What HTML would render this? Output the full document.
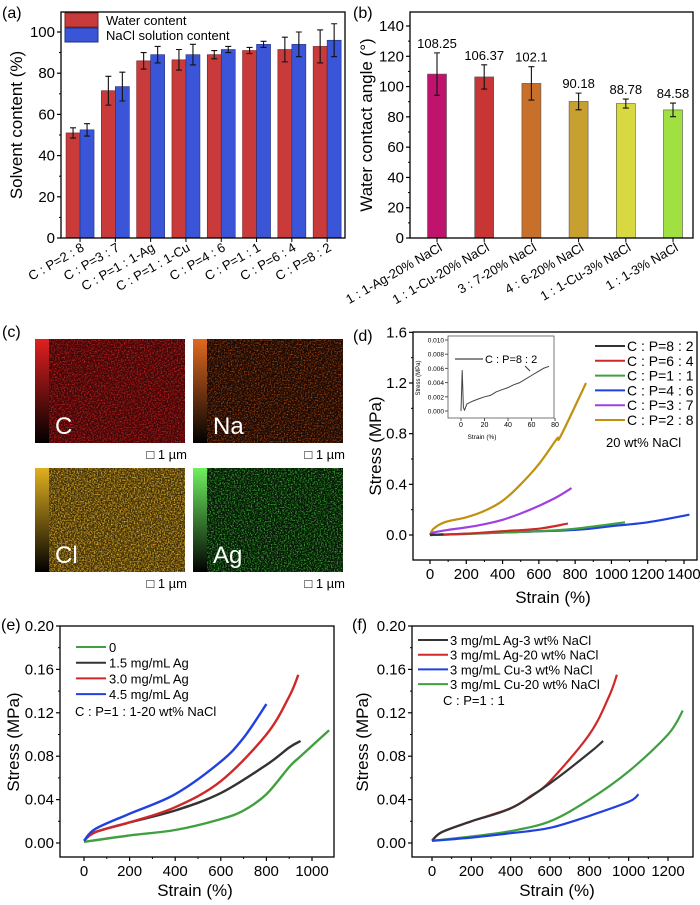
<!DOCTYPE html>
<html><head><meta charset="utf-8"><style>
body{margin:0;background:#fff;}
svg{display:block;font-family:"Liberation Sans",sans-serif;}
</style></head><body>
<svg id="fig" width="700" height="905" viewBox="0 0 700 905" xmlns="http://www.w3.org/2000/svg">
<defs>
<filter id="nC" x="0" y="0" width="100%" height="100%" color-interpolation-filters="sRGB"><feTurbulence type="fractalNoise" baseFrequency="0.7" numOctaves="2" seed="1"/><feColorMatrix type="matrix" values="0 0 0 0 0.82  0 0 0 0 0.12  0 0 0 0 0.12  2.6 0 0 0 -1.1"/></filter>
<filter id="nNa" x="0" y="0" width="100%" height="100%" color-interpolation-filters="sRGB"><feTurbulence type="fractalNoise" baseFrequency="0.7" numOctaves="2" seed="2"/><feColorMatrix type="matrix" values="0 0 0 0 0.75  0 0 0 0 0.3  0 0 0 0 0.08  2.6 0 0 0 -1.2"/></filter>
<filter id="nCl" x="0" y="0" width="100%" height="100%" color-interpolation-filters="sRGB"><feTurbulence type="fractalNoise" baseFrequency="0.7" numOctaves="2" seed="3"/><feColorMatrix type="matrix" values="0 0 0 0 0.85  0 0 0 0 0.65  0 0 0 0 0.15  2.6 0 0 0 -1.0"/></filter>
<filter id="nAg" x="0" y="0" width="100%" height="100%" color-interpolation-filters="sRGB"><feTurbulence type="fractalNoise" baseFrequency="0.7" numOctaves="2" seed="4"/><feColorMatrix type="matrix" values="0 0 0 0 0.25  0 0 0 0 0.75  0 0 0 0 0.22  2.6 0 0 0 -1.15"/></filter>
<linearGradient id="gC" x1="0" y1="1" x2="0" y2="0"><stop offset="0" stop-color="#000"/><stop offset="1" stop-color="#e02020"/></linearGradient>
<linearGradient id="gNa" x1="0" y1="1" x2="0" y2="0"><stop offset="0" stop-color="#000"/><stop offset="1" stop-color="#e06a20"/></linearGradient>
<linearGradient id="gCl" x1="0" y1="1" x2="0" y2="0"><stop offset="0" stop-color="#000"/><stop offset="1" stop-color="#e0b020"/></linearGradient>
<linearGradient id="gAg" x1="0" y1="1" x2="0" y2="0"><stop offset="0" stop-color="#000"/><stop offset="1" stop-color="#70f060"/></linearGradient>
</defs>
<g id="root"></g>
</svg>
<script>
// ---- Panel (a) data ----
const aCats = ["C : P=2 : 8","C : P=3 : 7","C : P=1 : 1-Ag","C : P=1 : 1-Cu","C : P=4 : 6","C : P=1 : 1","C : P=6 : 4","C : P=8 : 2"];
const aWater = [51,71.5,86,86.5,89,91,91.5,93];
const aWaterErr = [2.5,7,4,5,2,1.5,6,8];
const aNaCl = [52.5,73.5,89,89,91.5,94,94,96];
const aNaClErr = [3,7,4,5,1.5,1.5,6,8];
const aTicks = [0,20,40,60,80,100];
// ---- Panel (b) data ----
const bCats = ["1 : 1-Ag-20% NaCl","1 : 1-Cu-20% NaCl","3 : 7-20% NaCl","4 : 6-20% NaCl","1 : 1-Cu-3% NaCl","1 : 1-3% NaCl"];
const bVals = [108.25,106.37,102.1,90.18,88.78,84.58];
const bLabels = ["108.25","106.37","102.1","90.18","88.78","84.58"];
const bErr = [14,8,11,5.5,3,4.5];
const bTicks = [0,20,40,60,80,100,120,140];
// ---- Panel (d) data ----
const dNames = ["C : P=8 : 2","C : P=6 : 4","C : P=1 : 1","C : P=4 : 6","C : P=3 : 7","C : P=2 : 8"];
const dX82 = [0,20,40,60,75];           const dY82 = [0,0.002,0.003,0.005,0.006];
const dX64 = [0,200,400,600,760];       const dY64 = [0,0.01,0.03,0.05,0.09];
const dX11 = [0,200,400,600,800,1075];  const dY11 = [0,0.008,0.02,0.03,0.05,0.1];
const dX46 = [0,200,400,800,1000,1200,1430]; const dY46 = [0,0.01,0.02,0.04,0.07,0.1,0.16];
const dX37 = [0,20,100,200,300,400,500,600,700,780]; const dY37 = [0,0.02,0.04,0.06,0.085,0.12,0.17,0.23,0.3,0.37];
const dX28 = [0,20,80,200,300,400,500,600,700,720,860]; const dY28 = [0,0.05,0.1,0.14,0.19,0.27,0.4,0.56,0.76,0.78,1.2];
const dXTicks = [0,200,400,600,800,1000,1200,1400];
const dYTicks = [0,0.4,0.8,1.2,1.6];
const inX = [0,1,2,3,5,10,15,20,25,30,35,40,45,50,55,60,65,70,75];
const inY = [0,0.0057,0.0005,0.0001,0.001,0.0014,0.0017,0.002,0.0022,0.0027,0.003,0.0033,0.0037,0.004,0.0045,0.005,0.0055,0.006,0.0063];
const inXTicks = [0,20,40,60,80];
const inYTicks = [0,0.002,0.004,0.006,0.008,0.010];
// ---- Panel (e) data ----
const eNames = ["0","1.5 mg/mL Ag","3.0 mg/mL Ag","4.5 mg/mL Ag"];
const eX0 = [0,200,400,600,700,800,900,950,1075];   const eY0 = [0.001,0.007,0.012,0.022,0.03,0.045,0.07,0.08,0.104];
const eX15 = [0,50,200,400,600,800,900,950];        const eY15 = [0.002,0.01,0.019,0.03,0.046,0.072,0.088,0.094];
const eX30 = [0,50,200,400,600,800,900,940];        const eY30 = [0.002,0.01,0.019,0.033,0.057,0.1,0.135,0.155];
const eX45 = [0,50,200,400,600,700,800];            const eY45 = [0.002,0.013,0.027,0.045,0.075,0.097,0.128];
const eXTicks = [0,200,400,600,800,1000];
const efYTicks = [0,0.04,0.08,0.12,0.16,0.20];
// ---- Panel (f) data ----
const fNames = ["3 mg/mL Ag-3 wt% NaCl","3 mg/mL Ag-20 wt% NaCl","3 mg/mL Cu-3 wt% NaCl","3 mg/mL Cu-20 wt% NaCl"];
const fXAg3 = [0,50,200,400,600,800,870];           const fYAg3 = [0.002,0.01,0.02,0.032,0.055,0.083,0.094];
const fXAg20 = [0,50,200,400,500,600,800,900,940];  const fYAg20 = [0.002,0.01,0.02,0.032,0.043,0.057,0.1,0.135,0.155];
const fXCu3 = [0,200,400,600,800,1000,1050];        const fYCu3 = [0.002,0.005,0.009,0.014,0.025,0.038,0.045];
const fXCu20 = [0,200,400,600,800,1000,1200,1275];  const fYCu20 = [0.002,0.006,0.011,0.02,0.04,0.066,0.1,0.122];
const fXTicks = [0,200,400,600,800,1000,1200];

const NS="http://www.w3.org/2000/svg";
const root=document.getElementById('root');
function mk(tag,attrs,parent,text){const e=document.createElementNS(NS,tag);for(const k in attrs)e.setAttribute(k,attrs[k]);if(text!==undefined)e.textContent=text;(parent||root).appendChild(e);return e;}
function lin(d0,d1,r0,r1){return v=>r0+(v-d0)*(r1-r0)/(d1-d0);}
function fmt(v,dec){return v.toFixed(dec);}

function axes(g,x0,x1,y0,y1,sy,yTicks,ydec,sx,xTicks,xdec,fs){
  const box=mk('rect',{x:x0,y:y0,width:x1-x0,height:y1-y0,fill:'none',stroke:'#000','stroke-width':1.3},g);
  
  
  yTicks.forEach((t,i)=>{const y=sy(t);mk('line',{x1:x0-4,x2:x0,y1:y,y2:y,stroke:'#000','stroke-width':1.2},g);
    const tl=mk('text',{x:x0-6,y:y+5,'text-anchor':'end','font-size':fs},g,fmt(t,ydec));
    
    
    if(i<yTicks.length-1){const ym=sy((t+yTicks[i+1])/2);mk('line',{x1:x0-2,x2:x0,y1:ym,y2:ym,stroke:'#000'},g);}
  });
  if(sx){xTicks.forEach((t,i)=>{const x=sx(t);mk('line',{x1:x,x2:x,y1:y1,y2:y1+4,stroke:'#000','stroke-width':1.2},g);
    const tl=mk('text',{x:x,y:y1+19,'text-anchor':'middle','font-size':fs},g,fmt(t,xdec));
    
    
    if(i<xTicks.length-1){const xm=sx((t+xTicks[i+1])/2);mk('line',{x1:xm,x2:xm,y1:y1,y2:y1+2,stroke:'#000'},g);}
  });}
}
function curve(g,sx,sy,xs,ys,color,w,sharp){
  const P=xs.map((x,i)=>[sx(x),sy(ys[i])]);
  let d='M'+P[0][0].toFixed(1)+','+P[0][1].toFixed(1);
  for(let i=0;i<P.length-1;i++){
    if(sharp){d+=' L'+P[i+1][0].toFixed(1)+','+P[i+1][1].toFixed(1);continue;}
    const p0=P[Math.max(0,i-1)],p1=P[i],p2=P[i+1],p3=P[Math.min(P.length-1,i+2)];
    const c1=[p1[0]+(p2[0]-p0[0])/6,p1[1]+(p2[1]-p0[1])/6];
    const c2=[p2[0]-(p3[0]-p1[0])/6,p2[1]-(p3[1]-p1[1])/6];
    d+=` C${c1[0].toFixed(1)},${c1[1].toFixed(1)} ${c2[0].toFixed(1)},${c2[1].toFixed(1)} ${p2[0].toFixed(1)},${p2[1].toFixed(1)}`;
  }
  return mk('path',{d:d,fill:'none',stroke:color,'stroke-width':w||2,'stroke-linejoin':'round'},g);
}
function title(g,x,y,txt,rot,fs){const t=mk('text',{x:x,y:y,'text-anchor':'middle','font-size':fs||17,transform:rot?`rotate(-90 ${x} ${y})`:''},g,txt);return t;}
function plabel(x,y,txt){const t=mk('text',{x:x,y:y,'font-size':16},root,txt);}

// ===== Panel (a) =====
(function(){
  const g=mk('g',{});
  const X0=61,X1=345,Y0=12,Y1=238;
  const sy=lin(0,100,238,32);
  const sx=lin(-0.5,7.5,62.4,344.8);
  aCats.forEach((c,i)=>{
    const cx=sx(i);
    const r=mk('rect',{x:cx-14,y:sy(aWater[i]),width:14,height:238-sy(aWater[i]),fill:'#c93a3a',stroke:'#7a2020','stroke-width':0.6},g);
    
    const b=mk('rect',{x:cx,y:sy(aNaCl[i]),width:14,height:238-sy(aNaCl[i]),fill:'#3a55d8',stroke:'#22307a','stroke-width':0.6},g);
    
    [[cx-7,aWater[i],aWaterErr[i]],[cx+7,aNaCl[i],aNaClErr[i]]].forEach(([x,v,e])=>{
      const eb=mk('path',{d:`M${x},${sy(v-e)}V${sy(v+e)}M${x-3},${sy(v-e)}H${x+3}M${x-3},${sy(v+e)}H${x+3}`,stroke:'#111','stroke-width':1.1,fill:'none'},g);
      
    });
    mk('line',{x1:cx,x2:cx,y1:238,y2:242,stroke:'#000'},g);
    const t=mk('text',{x:cx+5,y:250,'text-anchor':'end','font-size':13,transform:`rotate(-30 ${cx+5} 250)`},g,c);
    
  });
  axes(g,X0,X1,Y0,Y1,sy,aTicks,0,null,null,0,15);
  const yt=title(g,22,125,'Solvent content (%)',true,17);
  const l1=mk('rect',{x:65,y:13,width:33,height:14,fill:'#c93a3a',stroke:'#7a2020'},g);
  const l2=mk('rect',{x:65,y:28,width:33,height:14,fill:'#3a55d8',stroke:'#22307a'},g);
  const t1=mk('text',{x:106,y:25,'font-size':13},g,'Water content');
  const t2=mk('text',{x:106,y:40,'font-size':13},g,'NaCl solution content');
  plabel(2,18,'(a)');
})();

// ===== Panel (b) =====
(function(){
  const g=mk('g',{});
  const X0=410,X1=693,Y0=12,Y1=238;
  const sy=lin(0,140,238,26);
  const sx=lin(0,5,437,673);
  const cols=['#c0136e','#c83535','#c8702a','#c8a030','#d8d840','#a0e040'];
  bCats.forEach((c,i)=>{
    const cx=sx(i);
    const r=mk('rect',{x:cx-9.5,y:sy(bVals[i]),width:19,height:238-sy(bVals[i]),fill:cols[i],stroke:'#555','stroke-width':0.6},g);
    
    const v=bVals[i],e=bErr[i];
    const eb=mk('path',{d:`M${cx},${sy(v-e)}V${sy(v+e)}M${cx-3},${sy(v-e)}H${cx+3}M${cx-3},${sy(v+e)}H${cx+3}`,stroke:'#111','stroke-width':1.1,fill:'none'},g);
    
    const vl=mk('text',{x:cx,y:sy(v+e)-5,'text-anchor':'middle','font-size':13},g,bLabels[i]);
    
    mk('line',{x1:cx,x2:cx,y1:238,y2:242,stroke:'#000'},g);
    const t=mk('text',{x:cx+6,y:250,'text-anchor':'end','font-size':13,transform:`rotate(-30 ${cx+6} 250)`},g,c);
    
  });
  axes(g,X0,X1,Y0,Y1,sy,bTicks,0,null,null,0,15);
  const yt=title(g,372,125,'Water contact angle (°)',true,17);
  plabel(353,18,'(b)');
})();

// ===== Panel (c) =====
(function(){
  const g=mk('g',{});
  const maps=[['C',35,339,'#3a0606','nC','gC'],['Na',193,339,'#1a0a03','nNa','gNa'],['Cl',35,468,'#3a2c06','nCl','gCl'],['Ag',193,468,'#041404','nAg','gAg']];
  maps.forEach(([el,x,y,base,f,gr])=>{
    const mg=mk('g',{},g);
    mk('rect',{x:x,y:y,width:150,height:104,fill:base},mg);
    mk('rect',{x:x,y:y,width:150,height:104,filter:`url(#${f})`},mg);
    mk('rect',{x:x,y:y,width:14,height:104,fill:`url(#${gr})`},mg);
    const t=mk('text',{x:x+20,y:y+95,'font-size':24,fill:'#fff'},mg,el);
    const sb=mk('text',{x:x+152,y:y+120,'text-anchor':'end','font-size':13},mg,'□ 1 µm');
  });
  plabel(2,337,'(c)');
})();

// ===== Panel (d) =====
(function(){
  const g=mk('g',{});
  const X0=413,X1=697,Y0=332,Y1=560;
  const sx=lin(0,1400,430,684), sy=lin(0,1.2,535,383);
  axes(g,X0,X1,Y0,Y1,sy,dYTicks,1,sx,dXTicks,0,15);
  const cols=['#333','#d02828','#40a040','#2040e0','#a040e0','#c09010'];
  const xs=[dX82,dX64,dX11,dX46,dX37,dX28], ys=[dY82,dY64,dY11,dY46,dY37,dY28];
  [5,4,3,2,1,0].forEach(i=>{const p=curve(g,sx,sy,xs[i],ys[i],cols[i],2.2);});
  dNames.forEach((n,i)=>{const y=346+i*14.8;
    const lg=mk('g',{},g);
    mk('line',{x1:595,x2:625,y1:y,y2:y,stroke:cols[i],'stroke-width':2},lg);
    mk('text',{x:627,y:y+5,'font-size':14},lg,n);});
  const nt=mk('text',{x:606,y:447,'font-size':13},g,'20 wt% NaCl');
  const xt=title(g,553,603,'Strain (%)',false,17);
  const yt=title(g,381,446,'Stress (MPa)',true,17);
  // inset
  const ig=mk('g',{},g);
  const ix=lin(0,80,461,555), iy=lin(0,0.01,411,340);
  mk('rect',{x:448,y:336,width:106,height:82,fill:'#fff',stroke:'#555','stroke-width':0.8},ig);
  inYTicks.forEach(t=>{mk('line',{x1:445,x2:448,y1:iy(t),y2:iy(t),stroke:'#555'},ig);mk('text',{x:444,y:iy(t)+2.5,'text-anchor':'end','font-size':6.5},ig,t.toFixed(3));});
  inXTicks.forEach(t=>{mk('line',{x1:ix(t),x2:ix(t),y1:418,y2:421,stroke:'#555'},ig);mk('text',{x:ix(t),y:427,'text-anchor':'middle','font-size':7},ig,t);});
  mk('text',{x:482,y:439,'text-anchor':'middle','font-size':6.5},ig,'Strain (%)');
  mk('text',{x:420,y:378,'text-anchor':'middle','font-size':6,transform:'rotate(-90 420 378)'},ig,'Stress (MPa)');
  const ic=curve(ig,ix,iy,inX,inY,'#444',1,true);
  mk('line',{x1:455,x2:483,y1:359,y2:359,stroke:'#444','stroke-width':1.3},ig);
  mk('text',{x:485,y:363,'font-size':11},ig,'C : P=8 : 2');
  mk('line',{x1:525,x2:530,y1:366,y2:371,stroke:'#333'},ig);
  plabel(353,341,'(d)');
})();

// ===== Panel (e) =====
(function(){
  const g=mk('g',{});
  const sx=lin(0,1000,84,312), sy=lin(0,0.2,843,626);
  axes(g,60,334,626,857,sy,efYTicks,2,sx,eXTicks,0,15);
  const cols=['#40a040','#333','#d02828','#2040e0'];
  const xs=[eX0,eX15,eX30,eX45], ys=[eY0,eY15,eY30,eY45];
  xs.forEach((x,i)=>{const p=curve(g,sx,sy,x,ys[i],cols[i],2.4);});
  eNames.forEach((n,i)=>{const y=647+i*15.7;
    const lg=mk('g',{},g);
    mk('line',{x1:76,x2:106,y1:y,y2:y,stroke:cols[i],'stroke-width':2},lg);
    mk('text',{x:109,y:y+5,'font-size':13},lg,n);});
  const nt=mk('text',{x:75,y:716,'font-size':13},g,'C : P=1 : 1-20 wt% NaCl');
  const xt=title(g,195,896,'Strain (%)',false,17);
  const yt=title(g,19,742,'Stress (MPa)',true,17);
  plabel(1,630,'(e)');
})();

// ===== Panel (f) =====
(function(){
  const g=mk('g',{});
  const sx=lin(0,1200,432,668), sy=lin(0,0.2,843,626);
  axes(g,412,693,626,857,sy,efYTicks,2,sx,fXTicks,0,15);
  const cols=['#333','#d02828','#2040e0','#40a040'];
  const xs=[fXAg3,fXAg20,fXCu3,fXCu20], ys=[fYAg3,fYAg20,fYCu3,fYCu20];
  [1,0,3,2].forEach(i=>{const p=curve(g,sx,sy,xs[i],ys[i],cols[i],2.2);});
  fNames.forEach((n,i)=>{const y=640+i*14.7;
    const lg=mk('g',{},g);
    mk('line',{x1:418,x2:448,y1:y,y2:y,stroke:cols[i],'stroke-width':2},lg);
    mk('text',{x:450,y:y+5,'font-size':13},lg,n);});
  const nt=mk('text',{x:443,y:705,'font-size':13},g,'C : P=1 : 1');
  const xt=title(g,557,896,'Strain (%)',false,17);
  const yt=title(g,368,742,'Stress (MPa)',true,17);
  plabel(352,630,'(f)');
})();
</script>
</body></html>
